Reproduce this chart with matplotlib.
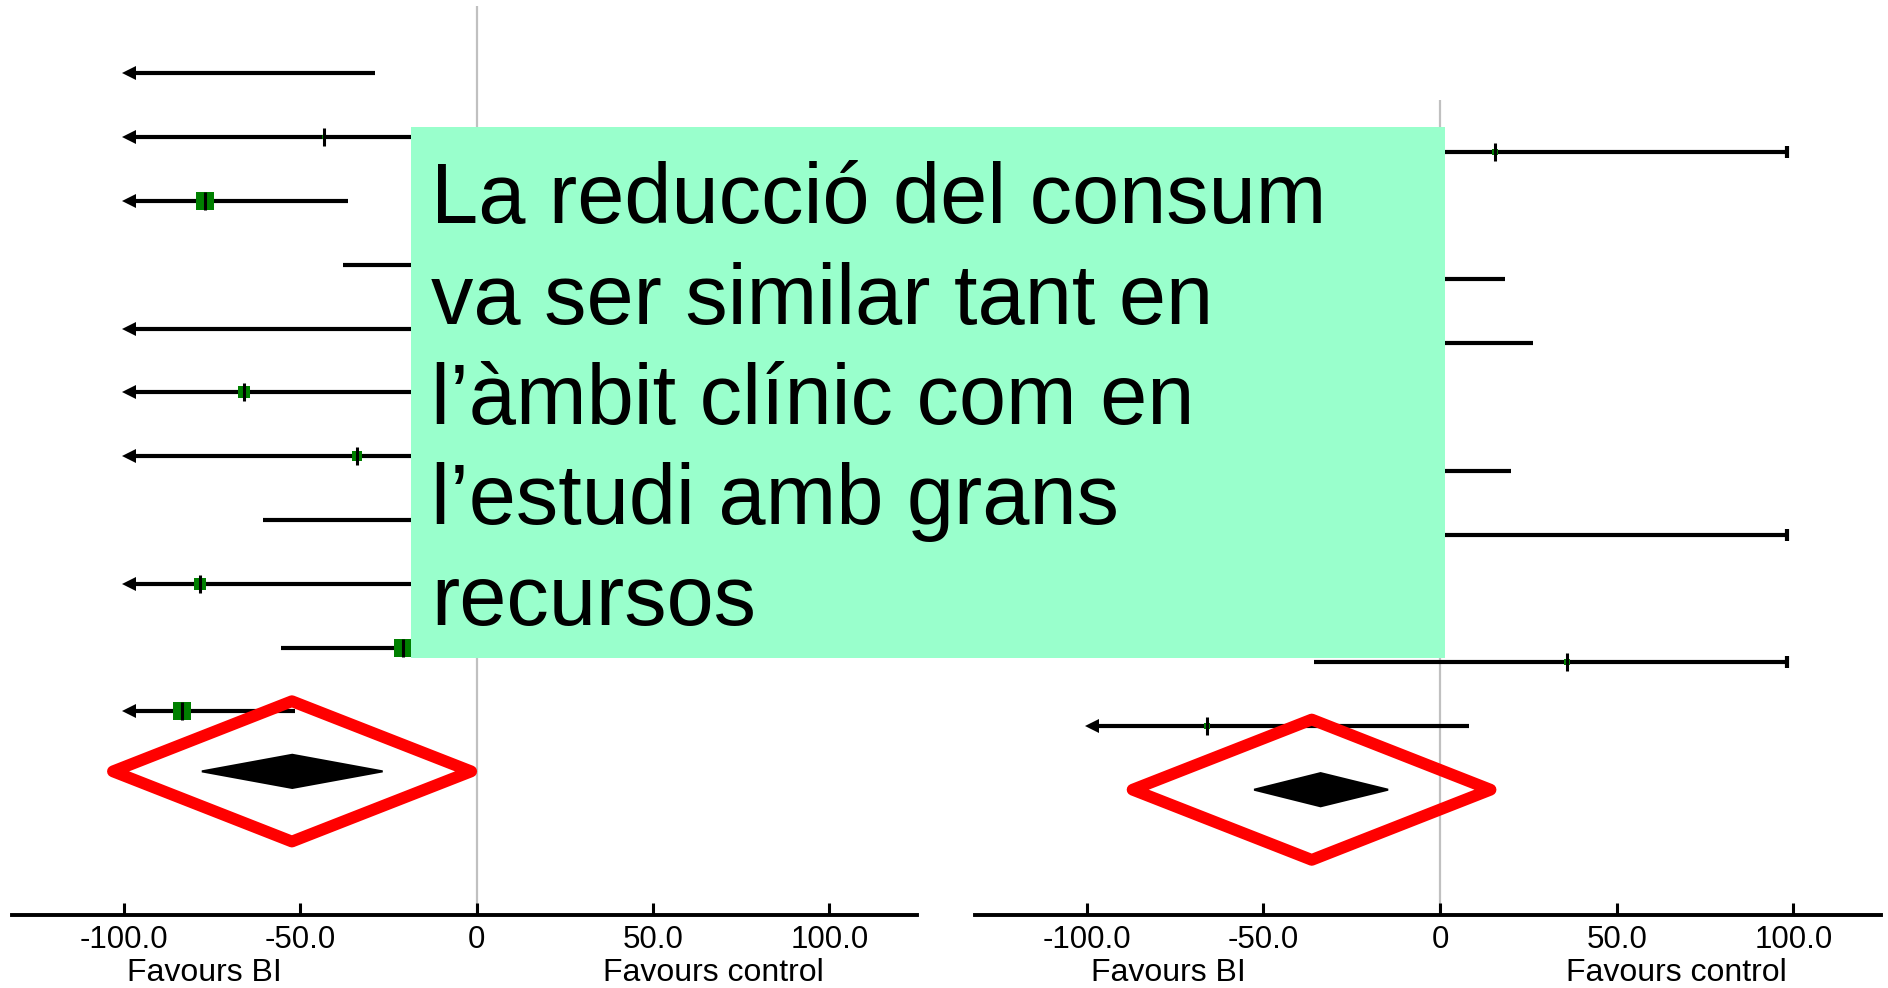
import numpy as np
import matplotlib.pyplot as plt
from matplotlib.patches import Polygon, Rectangle

W, H = 1888, 988

# ----------------------------
# data: mean difference per study (row 1 = top)
# ----------------------------
left_est = [np.nan, -43.3, -77.0, 10.0, -5.0, -65.9, -33.8, 0.0, -78.2, -20.8, -83.3]
left_lo = [-150, -150, -150, -37.9, -150, -150, -150, -60.4, -150, -55.3, -150]
left_hi = [-28.7, 10.0, -36.5, 60.0, 50.0, 20.0, 30.0, 60.0, 25.0, 15.0, -51.5]
left_weight = [0, 3, 13, 0, 0, 8, 7.5, 0, 8, 13, 13]
left_pooled = [-52.2, -77.8, -26.6]          # estimate, lower, upper
left_highlight = [-52.3, -103.0, -1.5]        # red outline: centre, left, right

right_est = [15.7, -40.0, -30.0, -20.0, -40.0, -25.0, -5.0, -50.0, 35.8, -65.9]
right_lo = [-40.0, -80.0, -80.0, -70.0, -90.0, -75.0, -60.0, -100.0, -35.8, -150]
right_hi = [120, -10.0, 18.4, 26.3, -5.0, 20.1, 120, -10.0, 120, 8.2]
right_weight = [4.5, 4.5, 4.5, 4.5, 4.5, 4.5, 4.5, 4.5, 4.5, 4.5]
right_pooled = [-33.8, -52.6, -14.7]
right_highlight = [-36.3, -87.0, 14.3]

tick_vals = [-100, -50, 0, 50, 100]
tick_labels = ["-100.0", "-50.0", "0", "50.0", "100.0"]

note_lines = ["La reducció del consum",
              "va ser similar tant en",
              "l\u2019àmbit clínic com en",
              "l\u2019estudi amb grans",
              "recursos"]

FONT = ["Liberation Sans", "DejaVu Sans"]

# ----------------------------
# layout helpers (pixels)
# ----------------------------
AXIS_Y = 915
ROW_PX = 63.8


def forest(ax, x0, x1, row1_px, est, lo, hi, weight, pooled, highlight,
           ref_top_px):
    n = len(est)
    ax.set_position([x0 / W, 1 - AXIS_Y / H, (x1 - x0) / W, AXIS_Y / H])
    ax.set_xlim(-131.6, 124.8)
    top = 1 - row1_px / ROW_PX
    bottom = 1 + (AXIS_Y - row1_px) / ROW_PX
    ax.set_ylim(bottom, top)

    ref_top = 1 + (ref_top_px - row1_px) / ROW_PX
    ax.vlines(0, ref_top, bottom, color="#c0c0c0", lw=1.6, zorder=1)

    for i in range(n):
        y = i + 1
        a = max(lo[i], -99)
        b = min(hi[i], 98.3)
        ax.plot([a, b], [y, y], color="black", lw=3.0, solid_capstyle="butt", zorder=2)
        if lo[i] < -100:
            ax.plot(-98.5, y, marker="<", ms=10, color="black", mew=0, zorder=3)
        if hi[i] > 100:
            ax.plot(98.3, y, marker="|", ms=8, color="black", mew=3, zorder=3)
        if not np.isnan(est[i]) and -100 <= est[i] <= 100:
            ax.plot(est[i], y, marker="s", ms=weight[i], color="#008000", mew=0, zorder=3)
            ax.plot(est[i], y, marker="|", ms=13, color="black", mew=2.2, zorder=4)

    yp = n + 0.94 if n == 11 else n + 1.0
    e, l, u = pooled
    h = 0.26
    ax.add_patch(Polygon([[l, yp], [e, yp - h], [u, yp], [e, yp + h]],
                         closed=True, facecolor="black", edgecolor="black", lw=1.5, zorder=3))

    c, hl, hr = highlight
    hh = 1.1
    ax.add_patch(Polygon([[hl, yp], [c, yp - hh], [hr, yp], [c, yp + hh]],
                         closed=True, facecolor="none", edgecolor="#ff0000",
                         lw=8.5, joinstyle="round", zorder=5))

    for s in ["top", "left", "right"]:
        ax.spines[s].set_visible(False)
    ax.spines["bottom"].set_linewidth(2.8)
    ax.spines["bottom"].set_color("black")
    ax.set_yticks([])
    ax.set_xticks(tick_vals)
    ax.set_xticklabels(tick_labels, fontsize=22.5, family=FONT)
    ax.tick_params(axis="x", direction="in", length=9, width=2.2, pad=7, color="black")
    ax.text(-77, -0.063, "Favours BI", transform=ax.get_xaxis_transform(),
            ha="center", va="center", fontsize=23, family=FONT)
    ax.text(67, -0.063, "Favours control", transform=ax.get_xaxis_transform(),
            ha="center", va="center", fontsize=23, family=FONT)
    ax.patch.set_visible(False)


fig = plt.figure(figsize=(W / 100, H / 100), dpi=100)
ax_l = fig.add_axes([0, 0, 1, 1])
ax_r = fig.add_axes([0, 0, 1, 1])

forest(ax_l, 12, 917, 73.4, left_est, left_lo, left_hi, left_weight,
       left_pooled, left_highlight, 6)
forest(ax_r, 975, 1881, 151.7, right_est, right_lo, right_hi, right_weight,
       right_pooled, right_highlight, 100)

# callout box over the plots
fig.patches.append(Rectangle((411 / W, 1 - 658 / H), (1445 - 411) / W, (658 - 127) / H,
                             transform=fig.transFigure, facecolor="#99ffcc",
                             edgecolor="none", zorder=10))
for k, line in enumerate(note_lines):
    fig.text(431 / W, 1 - (223 + 100.5 * k) / H, line, fontsize=61,
             family=FONT, va="baseline", ha="left", color="black", zorder=11)

fig.savefig("out.png", dpi=100)
